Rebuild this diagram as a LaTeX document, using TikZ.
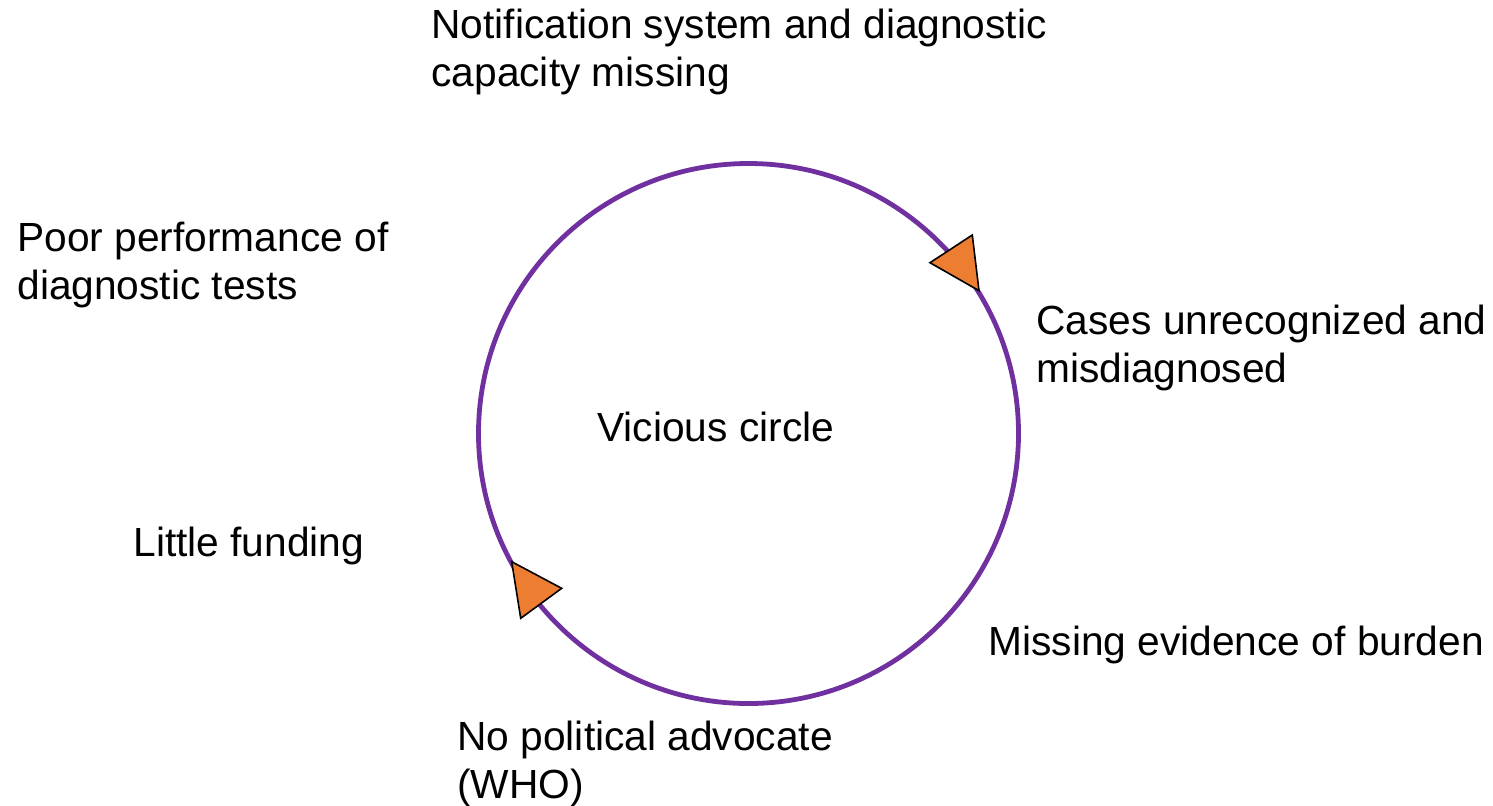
\documentclass[tikz,border=0pt]{standalone}
\usepackage{fontspec}
\setmainfont{Liberation Sans}
\definecolor{loopviolet}{HTML}{7030A0}
\definecolor{tipfill}{HTML}{ED7D31}
\begin{document}
\begin{tikzpicture}[x=0.5pt,y=-0.5pt,
  label/.style={inner sep=0pt, anchor=base west, align=left,
    font=\fontsize{20.35pt}{24pt}\selectfont},
  ring/.style={draw=loopviolet, line width=2.4pt},
  tip/.style={fill=tipfill, draw=black, line width=0.8pt, line join=miter}]
\useasboundingbox (0,0) rectangle (1493,805);

% the loop
\coordinate (c) at (748.5,433.5);
\draw[ring] (c) circle [radius=270];

% direction markers on the loop
\draw[tip] (930,262.7) -- (972.3,235) -- (979,290.7) -- cycle;
\draw[tip] (511.7,561.7) -- (561.7,588.3) -- (520.7,618.3) -- cycle;

% labels (multi-line nodes sit on the baseline of their last line)
\node[label] (centre) at (597,441.7) {Vicious circle};
\node[label] (notif) at (431,86.5) {Notification system and diagnostic\\capacity missing};
\node[label] (poor) at (17,299.5) {Poor performance of\\diagnostic tests};
\node[label] (cases) at (1036,382.5) {Cases unrecognized and\\misdiagnosed};
\node[label] (fund) at (133,556) {Little funding};
\node[label] (burden) at (988,655.7) {Missing evidence of burden};
\node[label] (who) at (457,798) {No political advocate\\(WHO)};
\end{tikzpicture}
\end{document}
